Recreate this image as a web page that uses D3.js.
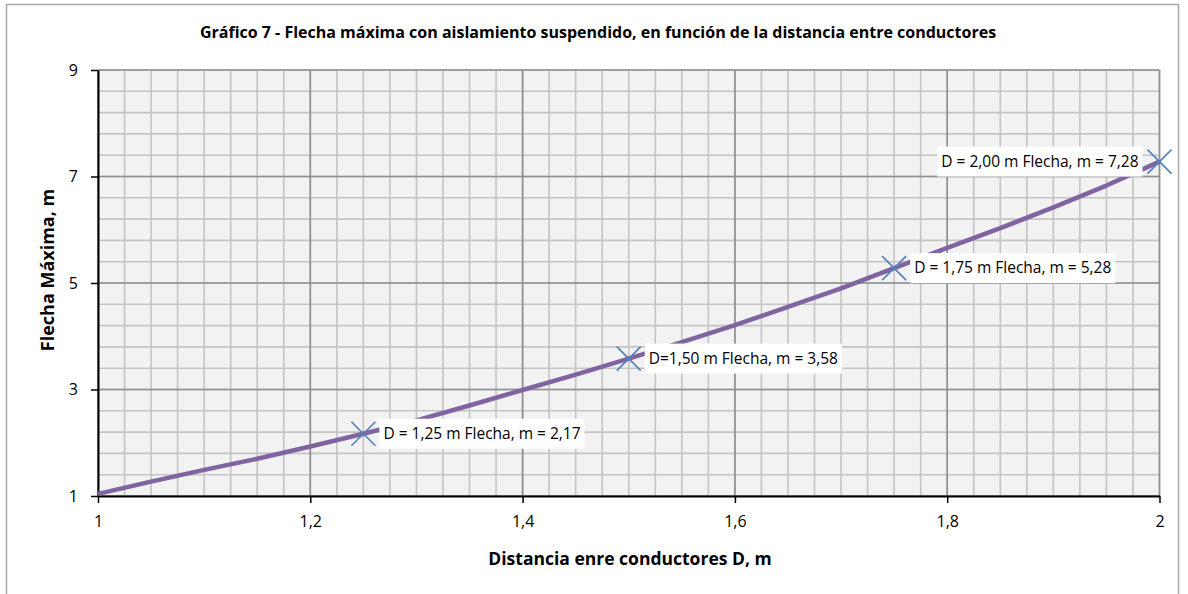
<!DOCTYPE html>
<html>
<head>
<meta charset="utf-8">
<script src="https://cdn.jsdelivr.net/npm/d3@7"></script>
<style>
  body { margin: 0; background: #fff; }
  svg { display: block; font-family: "Open Sans", "Lato", sans-serif; }
</style>
</head>
<body>
<div id="container"></div>
<script>
// distance between conductors D (m) and maximum sag (m)
var distances = [1.00, 1.05, 1.10, 1.15, 1.20, 1.25, 1.30, 1.35, 1.40, 1.45, 1.50,
                 1.55, 1.60, 1.65, 1.70, 1.75, 1.80, 1.85, 1.90, 1.95, 2.00];
var sags      = [1.04, 1.27, 1.49, 1.70, 1.93, 2.17, 2.42, 2.70, 2.99, 3.28, 3.58,
                 3.89, 4.21, 4.55, 4.90, 5.28, 5.66, 6.03, 6.42, 6.83, 7.28];

// labelled points
var markD     = [1.25, 1.50, 1.75, 2.00];
var markSag   = [2.17, 3.58, 5.28, 7.28];
var markText  = ["D = 1,25 m Flecha, m = 2,17", "D=1,50 m Flecha, m = 3,58",
                 "D = 1,75 m Flecha, m = 5,28", "D = 2,00 m Flecha, m = 7,28"];
var markSide  = ["right", "right", "right", "left"];

var xTicks = [1, 1.2, 1.4, 1.6, 1.8, 2];
var yTicks = [1, 3, 5, 7, 9];

var width = 1188, height = 594;
var margin = {top: 70, right: 28, bottom: 98, left: 98};

var svg = d3.select("#container").append("svg")
    .attr("width", width)
    .attr("height", height);

// chart border
svg.append("rect")
    .attr("x", 6.5).attr("y", 4.5)
    .attr("width", 1172).attr("height", 600)
    .attr("fill", "#fff")
    .attr("stroke", "#a6a6a6")
    .attr("stroke-width", 1.5);

var x = d3.scaleLinear().domain([1, 2]).range([margin.left, width - margin.right - 0.5]);
var y = d3.scaleLinear().domain([1, 9]).range([height - margin.bottom, margin.top]);

var g = svg.append("g");

g.append("rect")
    .attr("x", x(1)).attr("y", y(9))
    .attr("width", x(2) - x(1)).attr("height", y(1) - y(9))
    .attr("fill", "#f2f2f2");

// minor grid
g.append("g").selectAll("line")
    .data(d3.range(1, 2.0001, 0.025))
    .enter().append("line")
    .attr("x1", function(d) { return x(d); }).attr("x2", function(d) { return x(d); })
    .attr("y1", y(1)).attr("y2", y(9))
    .attr("stroke", "#c4c4c4").attr("stroke-width", 1.6);

g.append("g").selectAll("line")
    .data(d3.range(1, 9.0001, 0.4))
    .enter().append("line")
    .attr("x1", x(1)).attr("x2", x(2))
    .attr("y1", function(d) { return y(d); }).attr("y2", function(d) { return y(d); })
    .attr("stroke", "#c4c4c4").attr("stroke-width", 1.6);

// major grid
g.append("g").selectAll("line")
    .data(xTicks)
    .enter().append("line")
    .attr("x1", function(d) { return x(d); }).attr("x2", function(d) { return x(d); })
    .attr("y1", y(1)).attr("y2", y(9))
    .attr("stroke", "#8f8f8f").attr("stroke-width", 1.6);

g.append("g").selectAll("line")
    .data(yTicks)
    .enter().append("line")
    .attr("x1", x(1)).attr("x2", x(2))
    .attr("y1", function(d) { return y(d); }).attr("y2", function(d) { return y(d); })
    .attr("stroke", "#8f8f8f").attr("stroke-width", 1.6);

// axes
var fmt = function(d) { return String(d).replace(".", ","); };

var xAxis = svg.append("g")
    .attr("transform", "translate(0," + y(1) + ")")
    .call(d3.axisBottom(x).tickValues(xTicks).tickFormat(fmt).tickSize(7).tickSizeOuter(0).tickPadding(13));
var yAxis = svg.append("g")
    .attr("transform", "translate(" + x(1) + ",0)")
    .call(d3.axisLeft(y).tickValues(yTicks).tickSize(7).tickSizeOuter(0).tickPadding(13));

[xAxis, yAxis].forEach(function(a) {
  a.select(".domain").attr("stroke", "#000").attr("stroke-width", 2);
  a.selectAll(".tick line").attr("stroke", "#000").attr("stroke-width", 1.5);
  a.selectAll(".tick text").attr("fill", "#000").style("font-size", "16px")
      .style("font-family", "'Open Sans', sans-serif");
});

// curve
var line = d3.line()
    .x(function(d, i) { return x(distances[i]); })
    .y(function(d) { return y(d); });

svg.append("path")
    .datum(sags)
    .attr("d", line)
    .attr("fill", "none")
    .attr("stroke", "#8064a2")
    .attr("stroke-width", 4.5)
    .attr("stroke-linejoin", "round");

// labels
var labels = svg.append("g");
markD.forEach(function(d, i) {
  var px = x(d), py = y(markSag[i]);
  var t = labels.append("text")
      .attr("y", py + 5)
      .style("font-size", "15.5px")
      .attr("fill", "#000")
      .text(markText[i]);
  var w = t.node().getComputedTextLength();
  var bx = markSide[i] === "right" ? px + 16 : px - 17 - w - 8;
  t.attr("x", bx + 4);
  labels.insert("rect", "text")
      .attr("x", bx).attr("y", py - 15)
      .attr("width", w + 8).attr("height", 30)
      .attr("fill", "#fff");
});

// markers
var s = 12;
svg.append("g").selectAll("path")
    .data(markD)
    .enter().append("path")
    .attr("d", function(d, i) {
      var px = x(d), py = y(markSag[i]);
      return "M" + (px - s) + "," + (py - s) + "L" + (px + s) + "," + (py + s) +
             "M" + (px - s) + "," + (py + s) + "L" + (px + s) + "," + (py - s);
    })
    .attr("stroke", "#4f81bd")
    .attr("stroke-width", 1.6)
    .attr("fill", "none");

// titles
svg.append("text")
    .attr("x", 598).attr("y", 38)
    .attr("text-anchor", "middle")
    .style("font-size", "16px").style("font-weight", "bold")
    .text("Gráfico 7 - Flecha máxima con aislamiento suspendido,  en función de la distancia entre conductores");

svg.append("text")
    .attr("x", 630).attr("y", 565)
    .attr("text-anchor", "middle")
    .style("font-size", "17.5px").style("font-weight", "bold")
    .text("Distancia  enre conductores D, m");

svg.append("text")
    .attr("transform", "translate(54," + 270 + ") rotate(-90)")
    .attr("text-anchor", "middle")
    .style("font-size", "18px").style("font-weight", "bold")
    .text("Flecha Máxima,  m");
</script>
</body>
</html>
